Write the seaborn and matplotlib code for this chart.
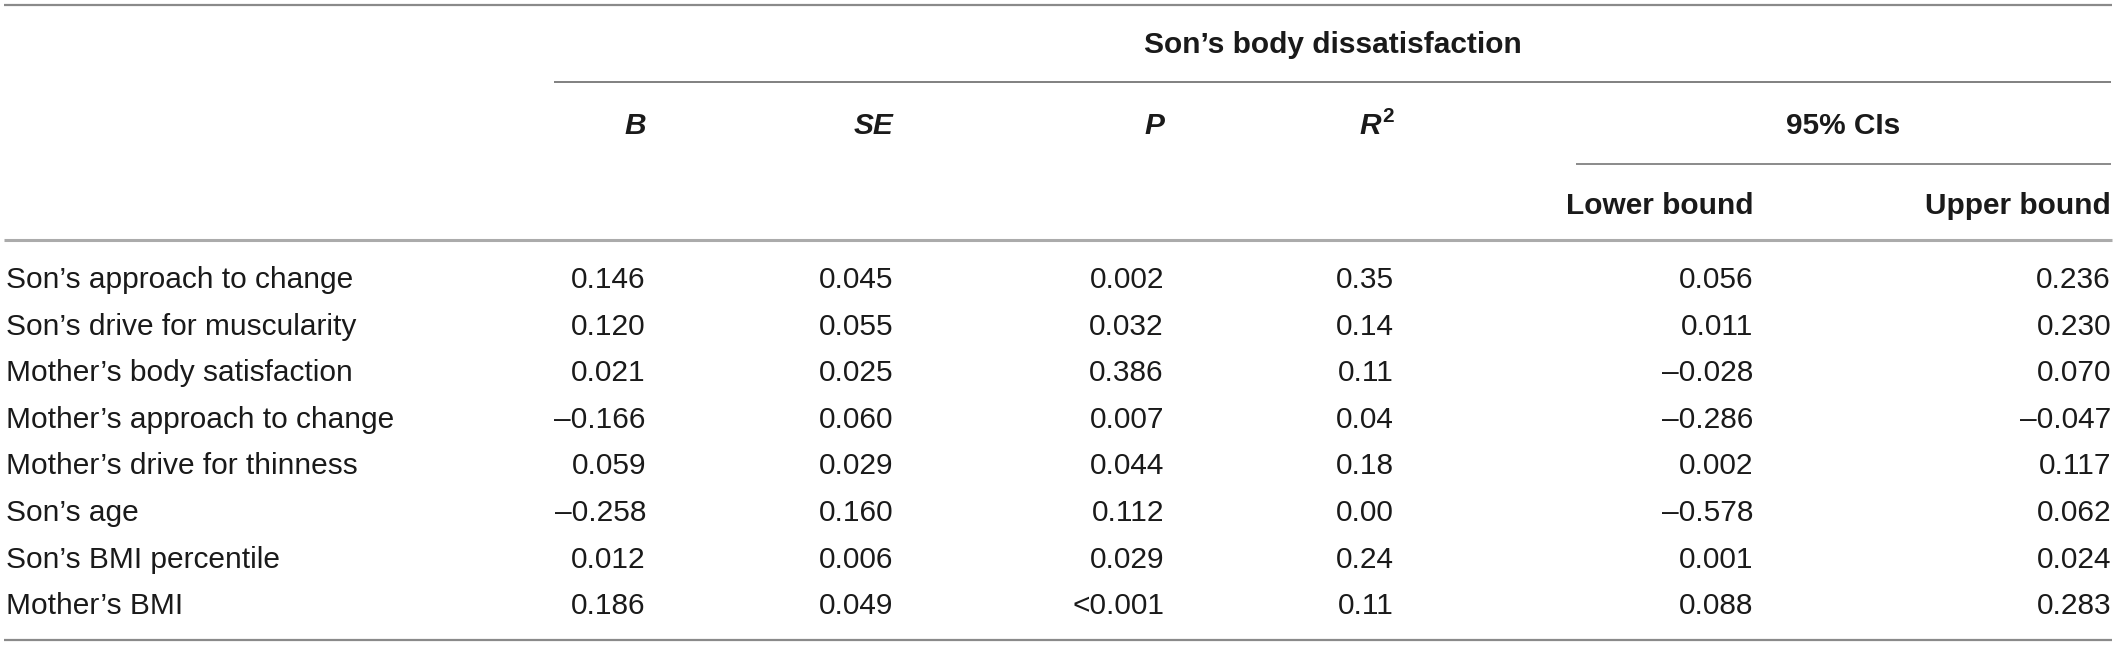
import matplotlib
matplotlib.use("Agg")
import matplotlib.pyplot as plt
import seaborn as sns

# table content
predictors = ["Son\u2019s approach to change", "Son\u2019s drive for muscularity",
              "Mother\u2019s body satisfaction", "Mother\u2019s approach to change",
              "Mother\u2019s drive for thinness", "Son\u2019s age",
              "Son\u2019s BMI percentile", "Mother\u2019s BMI"]
b_vals = ["0.146", "0.120", "0.021", "\u20130.166", "0.059", "\u20130.258", "0.012", "0.186"]
se_vals = ["0.045", "0.055", "0.025", "0.060", "0.029", "0.160", "0.006", "0.049"]
p_vals = ["0.002", "0.032", "0.386", "0.007", "0.044", "0.112", "0.029", "<0.001"]
r2_vals = ["0.35", "0.14", "0.11", "0.04", "0.18", "0.00", "0.24", "0.11"]
lower_vals = ["0.056", "0.011", "\u20130.028", "\u20130.286", "0.002", "\u20130.578", "0.001", "0.088"]
upper_vals = ["0.236", "0.230", "0.070", "\u20130.047", "0.117", "0.062", "0.024", "0.283"]

group_title = "Son\u2019s body dissatisfaction"
ci_title = "95% CIs"
ci_labels = ["Lower bound", "Upper bound"]

sns.set_theme(style="white")
plt.rcParams['font.family'] = ['Liberation Sans', 'DejaVu Sans']

W, H = 2117, 648
fig = plt.figure(figsize=(W / 100, H / 100), dpi=100)
ax = fig.add_axes([0, 0, 1, 1])
ax.set_xlim(0, W)
ax.set_ylim(H, 0)
ax.axis('off')

fs = 21.5
txt = '#1a1a1a'

# column right edges
col_x = [646, 893, 1164, 1394, 1753, 2111]
columns = [b_vals, se_vals, p_vals, r2_vals, lower_vals, upper_vals]

# rules
ax.hlines(5, 4, 2112, color='#8a8a8a', lw=1.6)
ax.hlines(82, 554, 2111, color='#808080', lw=1.4)
ax.hlines(164, 1576, 2111, color='#8a8a8a', lw=1.4)
ax.hlines(240, 4, 2112, color='#ababab', lw=2.2)
ax.hlines(640, 4, 2112, color='#8a8a8a', lw=1.6)

# header
ax.text((554 + 2111) / 2, 53, group_title, ha='center', va='baseline',
        fontsize=fs, fontweight='bold', color=txt)
for x, lab in zip(col_x[:3], ["B", "SE", "P"]):
    ax.text(x, 134, lab, ha='right', va='baseline', fontsize=fs,
            fontweight='bold', fontstyle='italic', color=txt)
ax.text(col_x[3] - 13, 134, "R", ha='right', va='baseline', fontsize=fs,
        fontweight='bold', fontstyle='italic', color=txt)
ax.text(col_x[3], 122, "2", ha='right', va='baseline', fontsize=fs * 0.7,
        fontweight='bold', color=txt)
ax.text((1576 + 2111) / 2, 134, ci_title, ha='center', va='baseline',
        fontsize=fs, fontweight='bold', color=txt)
for x, lab in zip(col_x[4:], ci_labels):
    ax.text(x, 214, lab, ha='right', va='baseline', fontsize=fs,
            fontweight='bold', color=txt)

# body rows
row_y = [288 + 46.6 * i for i in range(len(predictors))]
for i, y in enumerate(row_y):
    ax.text(6, y, predictors[i], ha='left', va='baseline', fontsize=fs, color=txt)
    for x, vals in zip(col_x, columns):
        ax.text(x, y, vals[i], ha='right', va='baseline', fontsize=fs, color=txt)

fig.savefig("out.png", dpi=100, facecolor='white')
